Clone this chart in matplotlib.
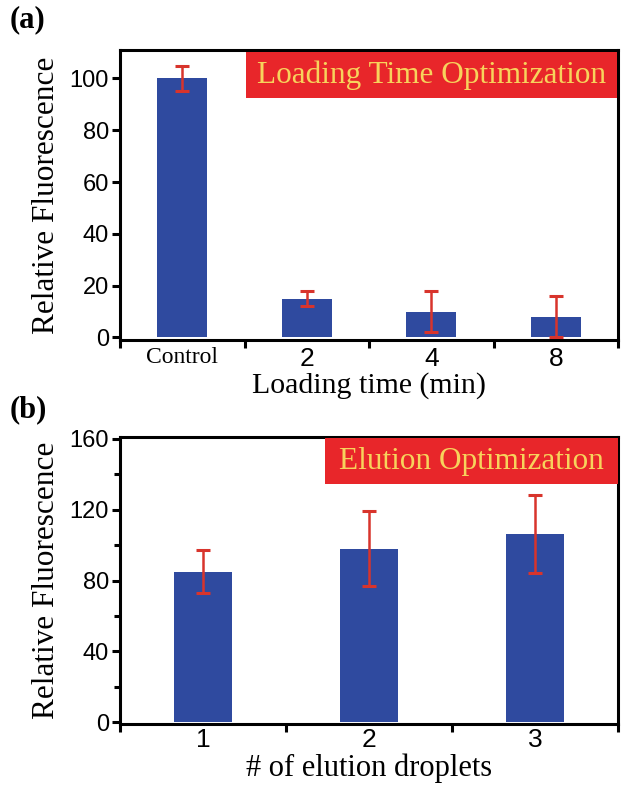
import matplotlib
matplotlib.use("Agg")
import matplotlib.pyplot as plt
from matplotlib.patches import Rectangle

# ---- data ----
a_categories = ["Control", "2", "4", "8"]
a_values = [100, 15, 10, 8]
a_errors = [5, 3, 8, 8]

b_categories = ["1", "2", "3"]
b_values = [85, 98, 106]
b_errors = [12, 21, 22]

a_yticks = [0, 20, 40, 60, 80, 100]
b_yticks = [0, 40, 80, 120, 160]

# ---- styles ----
sans = "Liberation Sans"
serif = "Liberation Serif"
bar_color = "#2F4A9F"
err_color = "#D8342C"
box_color = "#E8262A"
box_text = "#F7D35C"

W, H = 621, 790
fig = plt.figure(figsize=(W / 100, H / 100), dpi=100)

def frac(l, t, r, b):
    return [l / W, 1 - b / H, (r - l) / W, (b - t) / H]

def style(ax):
    for s in ax.spines.values():
        s.set_linewidth(2.2)
    ax.tick_params(axis="both", which="major", direction="out", width=2.2, length=6)
    ax.tick_params(axis="y", which="minor", direction="out", width=2.2, length=4)
    ax.tick_params(axis="y", which="major", labelsize=17, labelfontfamily=sans, pad=2)

# ---- panel (a) ----
axa = fig.add_axes(frac(120, 50, 618, 340))
xa = list(range(len(a_categories)))
axa.bar(xa, a_values, width=0.4, color=bar_color, zorder=2)
axa.errorbar(xa, a_values, yerr=a_errors, fmt="none", ecolor=err_color,
             elinewidth=1.8, capsize=5, capthick=2.2, zorder=3)
axa.set_xlim(-0.5, len(a_categories) - 0.5)
axa.set_ylim(-1, 111)
axa.set_yticks(a_yticks)
axa.set_xticks([i - 0.5 for i in range(len(a_categories) + 1)])
axa.set_xticklabels([])
axa.set_xticks(xa, minor=True)
axa.set_xticklabels(a_categories, minor=True)
axa.tick_params(axis="x", which="minor", length=0, pad=5,
                labelsize=19, labelfontfamily=sans)
style(axa)
ctrl = axa.get_xticklabels(minor=True)[0]
ctrl.set_fontfamily(serif)
ctrl.set_fontsize(17)
axa.set_ylabel("Relative Fluorescence", fontfamily=serif, fontsize=22.5, labelpad=6)
axa.set_xlabel("Loading time (min)", fontfamily=serif, fontsize=21.5, labelpad=1)
axa.add_patch(Rectangle((0.253, 0.834), 0.745, 0.159, transform=axa.transAxes,
                        facecolor=box_color, edgecolor="none", zorder=4))
axa.text(0.6255, 0.913, "Loading Time Optimization", transform=axa.transAxes,
         ha="center", va="center", color=box_text, fontfamily=serif,
         fontsize=22.5, zorder=5)

# ---- panel (b) ----
axb = fig.add_axes(frac(120, 437, 618, 724))
xb = list(range(1, len(b_categories) + 1))
axb.bar(xb, b_values, width=0.35, color=bar_color, zorder=2)
axb.errorbar(xb, b_values, yerr=b_errors, fmt="none", ecolor=err_color,
             elinewidth=1.8, capsize=5, capthick=2.2, zorder=3)
axb.set_xlim(0.5, len(b_categories) + 0.5)
axb.set_ylim(-1, 161)
axb.set_yticks(b_yticks)
axb.set_yticks([20, 60, 100, 140], minor=True)
axb.set_xticks([i + 0.5 for i in range(len(b_categories) + 1)])
axb.set_xticklabels([])
axb.set_xticks(xb, minor=True)
axb.set_xticklabels(b_categories, minor=True)
axb.tick_params(axis="x", which="minor", length=0, pad=3,
                labelsize=19, labelfontfamily=sans)
style(axb)
axb.set_ylabel("Relative Fluorescence", fontfamily=serif, fontsize=22.5, labelpad=6)
axb.set_xlabel("# of elution droplets", fontfamily=serif, fontsize=22, labelpad=1)
axb.add_patch(Rectangle((0.412, 0.836), 0.588, 0.161, transform=axb.transAxes,
                        facecolor=box_color, edgecolor="none", zorder=4))
axb.text(0.706, 0.915, "Elution Optimization", transform=axb.transAxes,
         ha="center", va="center", color=box_text, fontfamily=serif,
         fontsize=22.5, zorder=5)

# panel labels
fig.text(10 / W, 1 - 20 / H, "(a)", fontfamily=serif, fontweight="bold",
         fontsize=22, ha="left", va="center")
fig.text(10 / W, 1 - 410 / H, "(b)", fontfamily=serif, fontweight="bold",
         fontsize=22, ha="left", va="center")

fig.savefig("out.png", dpi=100)
